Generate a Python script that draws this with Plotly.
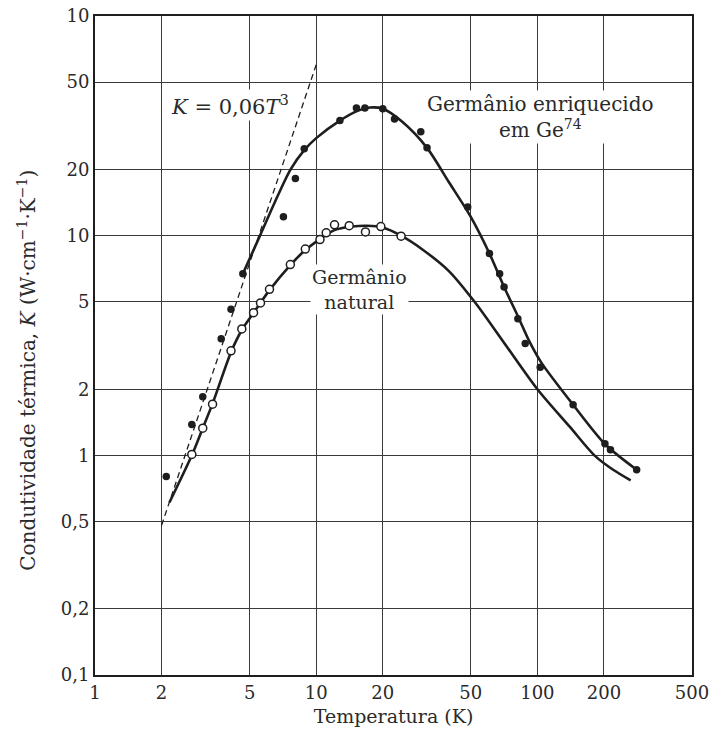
import plotly.graph_objects as go

# ---- Data ----
# Germânio enriquecido em Ge74 (filled dots)
enr_dots_T = [2.10, 2.74, 3.07, 3.72, 4.12, 4.66, 7.11, 8.05, 8.83, 12.8, 15.2, 16.6, 20.0, 22.6,
              29.7, 31.7, 48.4, 60.7, 67.5, 70.7, 81.6, 88.1, 103, 145, 202, 214, 281]
enr_dots_K = [0.80, 1.38, 1.85, 3.39, 4.62, 6.70, 12.2, 18.2, 24.9, 33.4, 38.1, 38.1, 37.8, 34.0,
              29.7, 25.1, 13.5, 8.3, 6.7, 5.84, 4.19, 3.23, 2.52, 1.70, 1.13, 1.06, 0.86]

# Germânio natural (open circles)
nat_dots_T = [2.74, 3.07, 3.40, 4.12, 4.61, 5.21, 5.60, 6.15, 7.64, 8.93, 10.4, 11.1, 12.1,
              14.1, 16.7, 19.6, 24.2]
nat_dots_K = [1.01, 1.33, 1.71, 2.99, 3.76, 4.46, 4.94, 5.70, 7.39, 8.69, 9.6, 10.3, 11.2,
              11.1, 10.4, 11.0, 9.95]

# Fitted curves
enr_curve_T = [4.66, 5.57, 6.5, 7.65, 8.83, 10.0, 12.8, 15.2, 17.5, 20, 24.5, 31.7, 39.7,
               49.7, 60.7, 70.7, 81.6, 92, 104, 145, 203, 281]
enr_curve_K = [6.7, 10.0, 14.2, 20.0, 24.5, 27.8, 33.4, 36.8, 38.3, 37.8, 33.0, 25.1, 17.6,
               12.3, 8.3, 5.84, 4.3, 3.3, 2.65, 1.70, 1.12, 0.86]

nat_curve_T = [2.17, 2.74, 3.07, 3.4, 4.12, 4.61, 5.21, 6.15, 7.64, 8.93, 10.4, 12.1, 14.5, 17,
               20, 24.2, 30, 39.8, 52, 70, 100, 140, 181, 220, 264]
nat_curve_K = [0.61, 1.0, 1.33, 1.72, 2.95, 3.72, 4.45, 5.65, 7.35, 8.6, 9.65, 10.6, 11.0, 11.1,
               10.9, 10.0, 8.7, 6.9, 5.0, 3.3, 2.0, 1.35, 1.0, 0.86, 0.77]

# K = 0,06 T^3 (dashed), end points
debye_T = [2, 10]
debye_K = [0.48, 60]

x_ticks = [1, 2, 5, 10, 20, 50, 100, 200, 500]
x_labels = ["1", "2", "5", "10", "20", "50", "100", "200", "500"]
y_ticks = [0.1, 0.2, 0.5, 1, 2, 5, 10, 20, 50, 100]
y_labels = ["0,1", "0,2", "0,5", "1", "2", "5", "10", "20", "50", "10"]

FONT = "DejaVu Serif, Liberation Serif, serif"
INK = "#1e1e1e"
TXT = "#2a2a2a"

fig = go.Figure()
fig.add_trace(go.Scatter(x=debye_T, y=debye_K, mode="lines",
                         line=dict(color=INK, width=1.3, dash="6px,4px"), showlegend=False))
fig.add_trace(go.Scatter(x=enr_curve_T, y=enr_curve_K, mode="lines", line_shape="spline",
                         line=dict(color=INK, width=2.6, smoothing=0.8), showlegend=False))
fig.add_trace(go.Scatter(x=nat_curve_T, y=nat_curve_K, mode="lines", line_shape="spline",
                         line=dict(color=INK, width=2.6, smoothing=0.8), showlegend=False))
fig.add_trace(go.Scatter(x=enr_dots_T, y=enr_dots_K, mode="markers",
                         marker=dict(color=INK, size=7.5, line=dict(width=0)), showlegend=False))
fig.add_trace(go.Scatter(x=nat_dots_T, y=nat_dots_K, mode="markers",
                         marker=dict(color="white", size=8, line=dict(color=INK, width=1.5)),
                         showlegend=False))

ann_font = dict(family=FONT, size=20, color=TXT)
fig.add_annotation(x=0.610, y=1.595, xref="x", yref="y",
                   text="<i>K</i> = 0,06<i>T</i><sup>3</sup>",
                   showarrow=False, font=dict(family=FONT, size=21, color=TXT), bgcolor="white")
fig.add_annotation(x=2.016, y=1.540, xref="x", yref="y",
                   text="Germânio enriquecido<br>em Ge<sup>74</sup>",
                   showarrow=False, font=ann_font, bgcolor="white", align="center")
fig.add_annotation(x=1.198, y=0.753, xref="x", yref="y", text="Germânio<br>natural",
                   showarrow=False, font=dict(family=FONT, size=19, color=TXT),
                   bgcolor="white", align="center")

# y-axis title placed as a rotated annotation to match its position
fig.add_annotation(x=-0.114, y=0.463, xref="paper", yref="paper", textangle=-90,
                   text="Condutividade térmica, <i>K</i> (W·cm<sup>−1</sup>·K<sup>−1</sup>)",
                   showarrow=False, xanchor="center", yanchor="middle",
                   font=dict(family=FONT, size=20, color=TXT))

axis_common = dict(showgrid=True, gridcolor="#3a3a3a", gridwidth=1.2, showline=True,
                   linecolor=INK, linewidth=2, mirror=True, ticks="", automargin=False,
                   tickfont=dict(family=FONT, size=18, color=TXT), zeroline=False)

fig.update_xaxes(type="log", range=[0, 2.69897], tickvals=x_ticks, ticktext=x_labels,
                 title=dict(text="Temperatura (K)",
                            font=dict(family=FONT, size=19, color=TXT), standoff=8),
                 **axis_common)
fig.update_yaxes(type="log", range=[-1, 2], tickvals=y_ticks, ticktext=y_labels,
                 **axis_common)

fig.update_layout(width=713, height=738, margin=dict(l=95, r=21, t=16, b=63),
                  plot_bgcolor="white", paper_bgcolor="white")

fig.write_html("out.html", config={"displayModeBar": False},
               post_script="document.body.style.margin='0';document.body.style.padding='0';")
